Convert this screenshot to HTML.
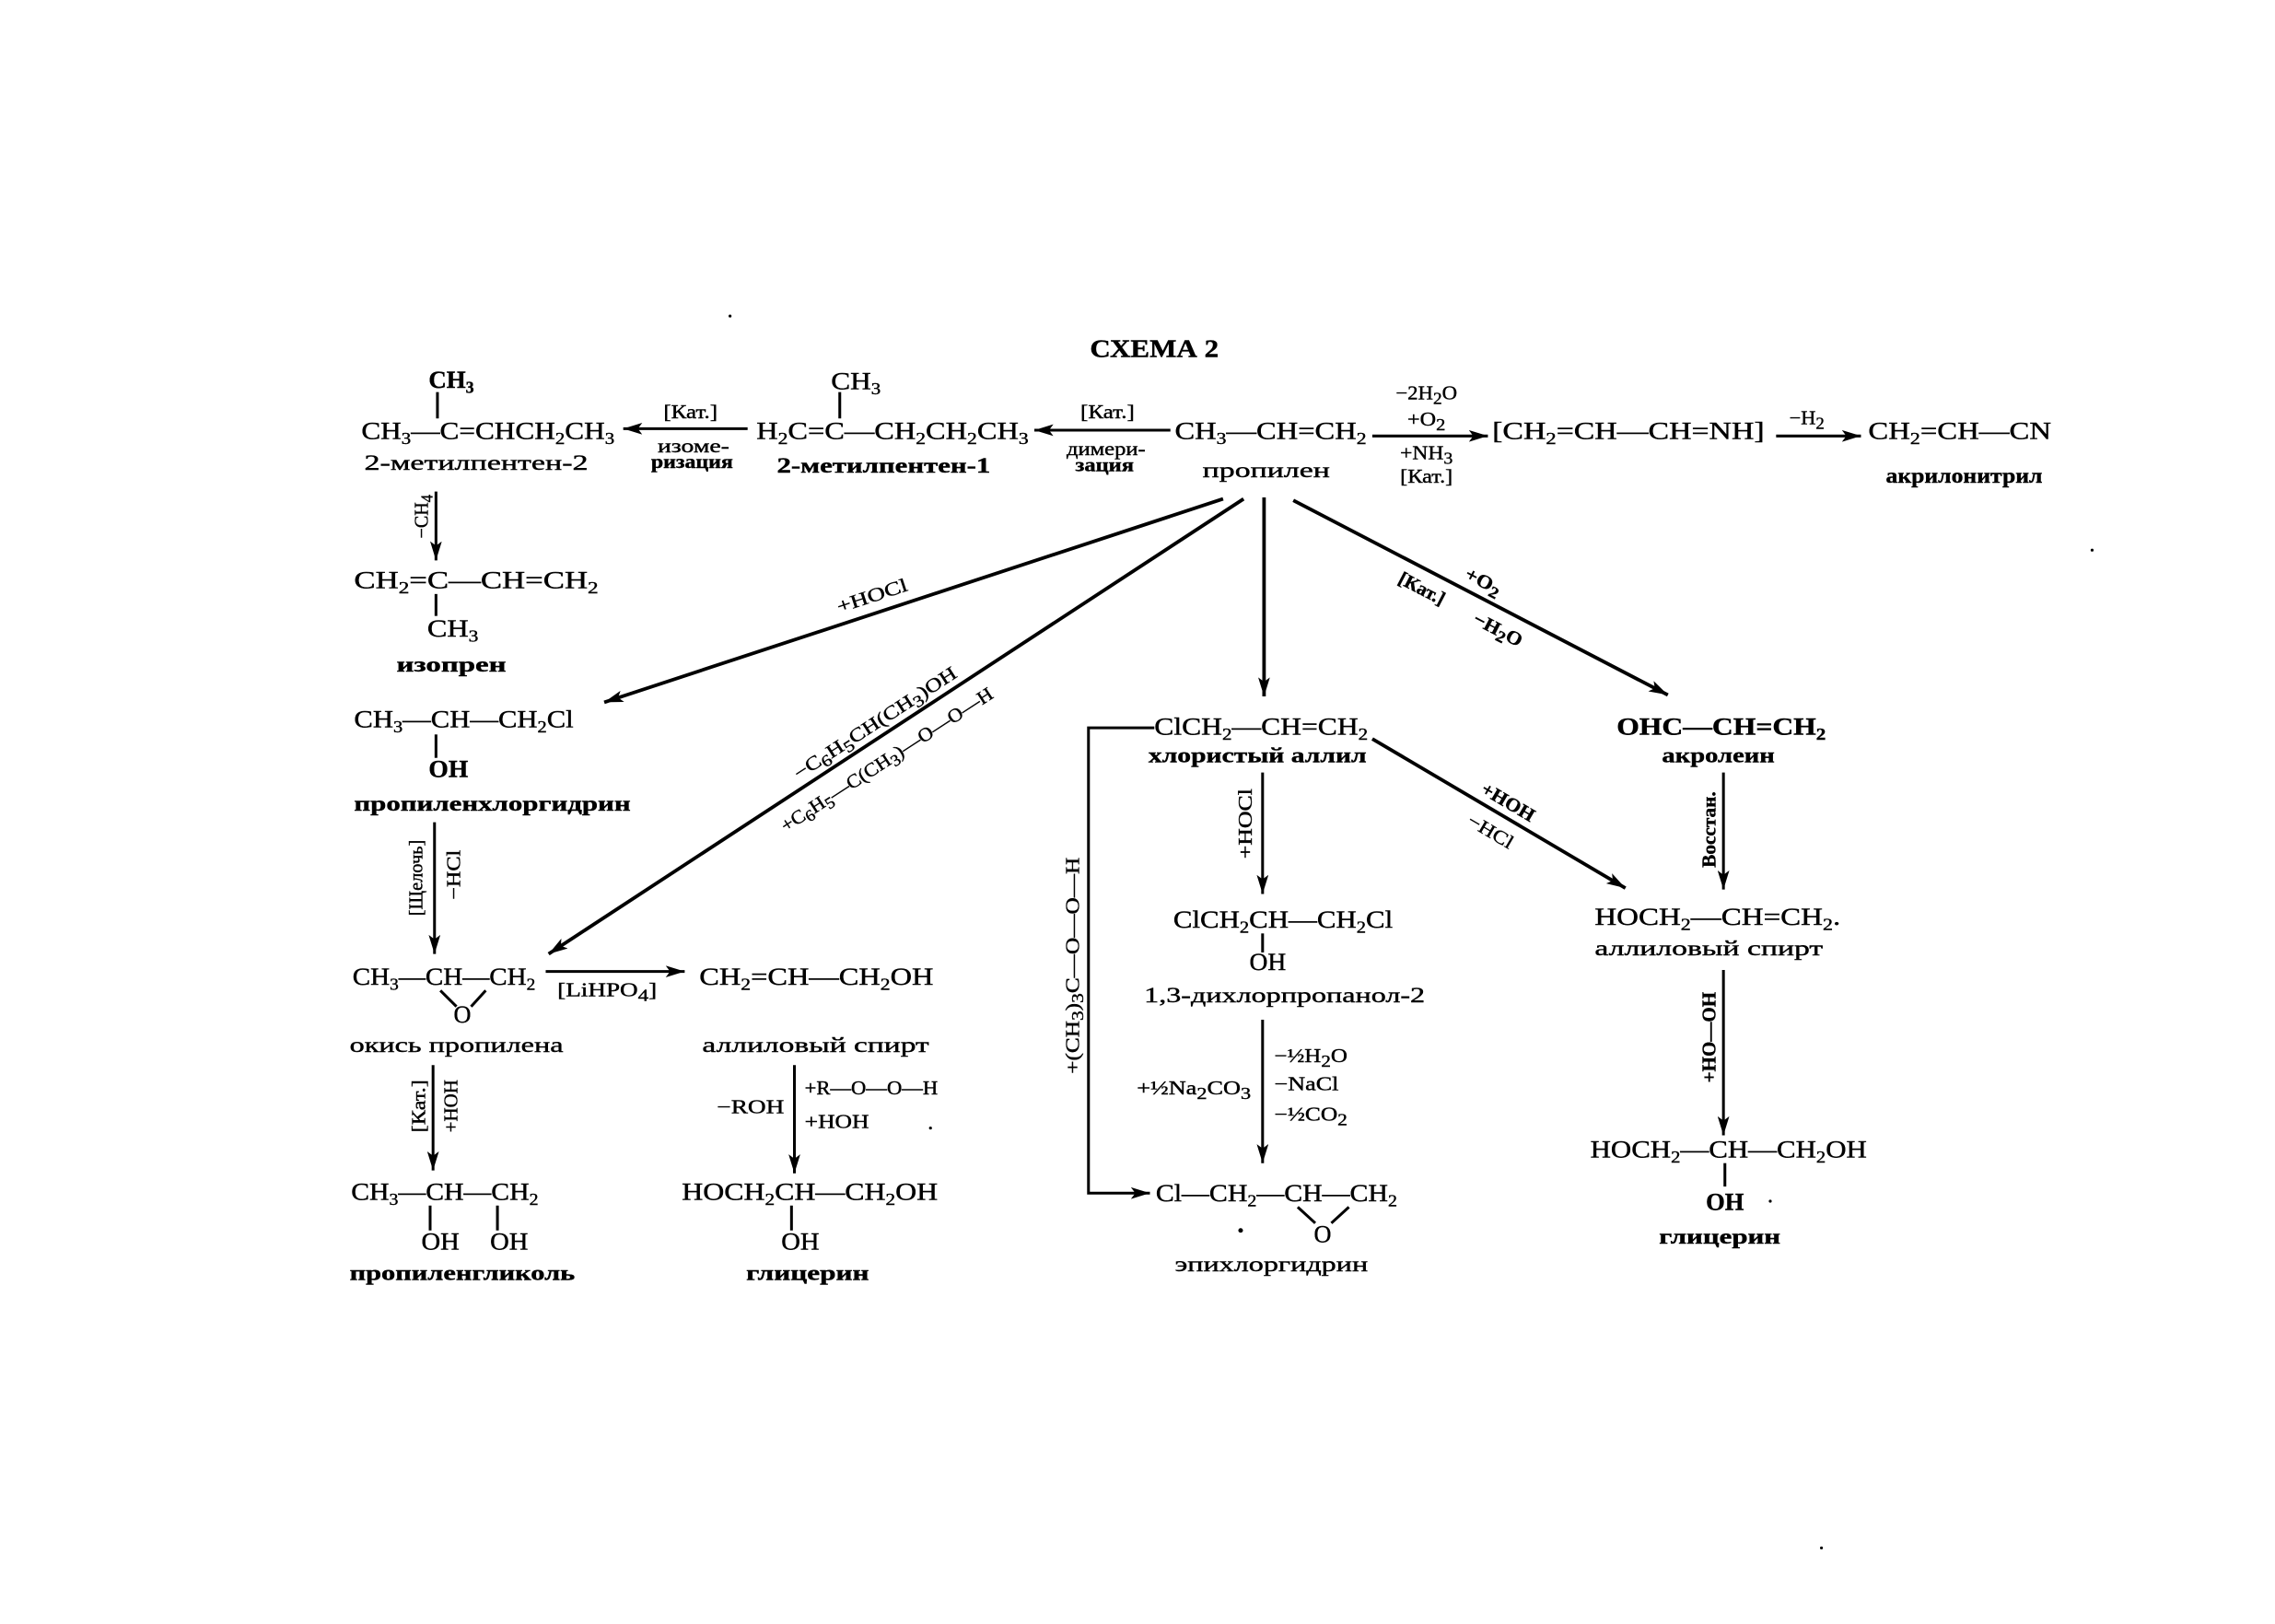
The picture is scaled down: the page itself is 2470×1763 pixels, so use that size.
<!DOCTYPE html>
<html>
<head>
<meta charset="utf-8">
<style>
html,body{margin:0;padding:0;background:#fff;}
svg{display:block;}
text{font-family:"Liberation Serif","DejaVu Serif",serif;fill:#000;stroke:#000;stroke-width:0.25px;}
.f{font-size:16.5px;}
.n{font-size:14.5px;}
.l{font-size:13px;}
.s{font-size:11px;}
.b{font-weight:bold;}
line,path.ln{stroke:#000;stroke-width:1.9;fill:none;}
.t{stroke-width:2.4;}
</style>
</head>
<body>
<svg width="2470" height="1763" viewBox="0 0 1555 1110" preserveAspectRatio="none" xmlns="http://www.w3.org/2000/svg">
<defs>
<marker id="a" viewBox="0 0 13 8" refX="13" refY="4" markerWidth="13" markerHeight="8" orient="auto" markerUnits="userSpaceOnUse">
<path d="M0,0 L13,4 L0,8 L3,4 Z" fill="#000"/>
</marker>
</defs>
<rect width="1555" height="1110" fill="#fff"/>

<!-- Title -->
<text x="789" y="244" class="b" font-size="17" text-anchor="middle" textLength="88" lengthAdjust="spacingAndGlyphs">СХЕМА 2</text>

<!-- ===== Row 1 ===== -->
<text class="f b" x="293" y="265" textLength="31" lengthAdjust="spacingAndGlyphs">CH<tspan class="s" dy="3.5">3</tspan></text>
<line x1="299" y1="268" x2="299" y2="286"/>
<text class="f" x="247" y="300" textLength="173" lengthAdjust="spacingAndGlyphs">CH<tspan class="s" dy="3.5">3</tspan><tspan dy="-3.5">—C=CHCH</tspan><tspan class="s" dy="3.5">2</tspan><tspan dy="-3.5">CH</tspan><tspan class="s" dy="3.5">3</tspan></text>
<text class="n" x="249" y="321" textLength="153" lengthAdjust="spacingAndGlyphs">2-метилпентен-2</text>

<line x1="511" y1="293" x2="426" y2="293" marker-end="url(#a)"/>
<text class="l" x="472" y="286" text-anchor="middle" textLength="37" lengthAdjust="spacingAndGlyphs">[Кат.]</text>
<text class="l" x="474" y="309" text-anchor="middle" textLength="49" lengthAdjust="spacingAndGlyphs">изоме-</text>
<text class="l b" x="473" y="320" text-anchor="middle" textLength="56" lengthAdjust="spacingAndGlyphs">ризация</text>

<text class="f" x="568" y="266" textLength="34" lengthAdjust="spacingAndGlyphs">CH<tspan class="s" dy="3.5">3</tspan></text>
<line x1="574" y1="268" x2="574" y2="286"/>
<text class="f" x="517" y="300" textLength="186" lengthAdjust="spacingAndGlyphs">H<tspan class="s" dy="3.5">2</tspan><tspan dy="-3.5">C=C—CH</tspan><tspan class="s" dy="3.5">2</tspan><tspan dy="-3.5">CH</tspan><tspan class="s" dy="3.5">2</tspan><tspan dy="-3.5">CH</tspan><tspan class="s" dy="3.5">3</tspan></text>
<text class="n b" x="531" y="323" textLength="146" lengthAdjust="spacingAndGlyphs">2-метилпентен-1</text>

<line x1="800" y1="294" x2="707" y2="294" marker-end="url(#a)"/>
<text class="l" x="757" y="286" text-anchor="middle" textLength="37" lengthAdjust="spacingAndGlyphs">[Кат.]</text>
<text class="l" x="756" y="311" text-anchor="middle" textLength="54" lengthAdjust="spacingAndGlyphs">димери-</text>
<text class="l b" x="755" y="322" text-anchor="middle" textLength="40" lengthAdjust="spacingAndGlyphs">зация</text>

<text class="f" x="803" y="300" textLength="131" lengthAdjust="spacingAndGlyphs">CH<tspan class="s" dy="3.5">3</tspan><tspan dy="-3.5">—CH=CH</tspan><tspan class="s" dy="3.5">2</tspan></text>
<text class="n" x="822" y="326" textLength="87" lengthAdjust="spacingAndGlyphs">пропилен</text>

<line x1="938" y1="298" x2="1017" y2="298" marker-end="url(#a)"/>
<text class="l" x="975" y="273" text-anchor="middle" textLength="42" lengthAdjust="spacingAndGlyphs">−2H<tspan class="s" dy="3">2</tspan><tspan dy="-3">O</tspan></text>
<text class="l" x="975" y="291" text-anchor="middle" textLength="26" lengthAdjust="spacingAndGlyphs">+O<tspan class="s" dy="3">2</tspan></text>
<text class="l" x="975" y="314" text-anchor="middle" textLength="36" lengthAdjust="spacingAndGlyphs">+NH<tspan class="s" dy="3">3</tspan></text>
<text class="l" x="975" y="330" text-anchor="middle" textLength="36" lengthAdjust="spacingAndGlyphs">[Кат.]</text>

<text class="f" x="1020" y="300" textLength="186" lengthAdjust="spacingAndGlyphs">[CH<tspan class="s" dy="3.5">2</tspan><tspan dy="-3.5">=CH—CH=NH]</tspan></text>
<line x1="1214" y1="298" x2="1272" y2="298" marker-end="url(#a)"/>
<text class="l" x="1235" y="290" text-anchor="middle" textLength="24" lengthAdjust="spacingAndGlyphs">−H<tspan class="s" dy="3">2</tspan></text>
<text class="f" x="1277" y="300" textLength="125" lengthAdjust="spacingAndGlyphs">CH<tspan class="s" dy="3.5">2</tspan><tspan dy="-3.5">=CH—CN</tspan></text>
<text class="n b" x="1289" y="330" textLength="107" lengthAdjust="spacingAndGlyphs">акрилонитрил</text>

<!-- ===== Left column ===== -->
<line x1="298" y1="336" x2="298" y2="383" marker-end="url(#a)"/>
<g transform="translate(288,353) rotate(-90)"><text class="l" x="0" y="4.5" text-anchor="middle" textLength="30" lengthAdjust="spacingAndGlyphs">−CH<tspan class="s" dy="3">4</tspan></text></g>
<text class="f" x="242" y="402" textLength="167" lengthAdjust="spacingAndGlyphs">CH<tspan class="s" dy="3.5">2</tspan><tspan dy="-3.5">=C—CH=CH</tspan><tspan class="s" dy="3.5">2</tspan></text>
<line x1="298" y1="406" x2="298" y2="421"/>
<text class="f" x="292" y="435" textLength="35" lengthAdjust="spacingAndGlyphs">CH<tspan class="s" dy="3.5">3</tspan></text>
<text class="n b" x="271" y="459" textLength="75" lengthAdjust="spacingAndGlyphs">изопрен</text>

<!-- +HOCl diagonal -->
<line class="t" x1="836" y1="341" x2="413" y2="480" marker-end="url(#a)"/>
<g transform="translate(596,407) rotate(-18.2)"><text class="l" x="0" y="4.5" text-anchor="middle" textLength="50" lengthAdjust="spacingAndGlyphs">+HOCl</text></g>

<text class="f" x="242" y="497" textLength="150" lengthAdjust="spacingAndGlyphs">CH<tspan class="s" dy="3.5">3</tspan><tspan dy="-3.5">—CH—CH</tspan><tspan class="s" dy="3.5">2</tspan><tspan dy="-3.5">Cl</tspan></text>
<line x1="298" y1="502" x2="298" y2="518"/>
<text class="f b" x="293" y="531" textLength="27" lengthAdjust="spacingAndGlyphs">OH</text>
<text class="n b" x="242" y="554" textLength="189" lengthAdjust="spacingAndGlyphs">пропиленхлоргидрин</text>

<line x1="297" y1="562" x2="297" y2="652" marker-end="url(#a)"/>
<g transform="translate(284,600) rotate(-90)"><text class="l" x="0" y="4.5" text-anchor="middle" textLength="52" lengthAdjust="spacingAndGlyphs">[Щелочь]</text></g>
<g transform="translate(310,598) rotate(-90)"><text class="l" x="0" y="4.5" text-anchor="middle" textLength="34" lengthAdjust="spacingAndGlyphs">−HCl</text></g>

<text class="f" x="241" y="673" textLength="125" lengthAdjust="spacingAndGlyphs">CH<tspan class="s" dy="3.5">3</tspan><tspan dy="-3.5">—CH—CH</tspan><tspan class="s" dy="3.5">2</tspan></text>
<line x1="301" y1="677" x2="312" y2="688"/>
<line x1="332" y1="677" x2="322" y2="688"/>
<text class="f" x="316" y="699" text-anchor="middle">O</text>
<text class="n" x="239" y="719" textLength="146" lengthAdjust="spacingAndGlyphs">окись пропилена</text>

<line x1="296" y1="728" x2="296" y2="800" marker-end="url(#a)"/>
<g transform="translate(286,756) rotate(-90)"><text class="l" x="0" y="4.5" text-anchor="middle" textLength="36" lengthAdjust="spacingAndGlyphs">[Кат.]</text></g>
<g transform="translate(308,756) rotate(-90)"><text class="l" x="0" y="4.5" text-anchor="middle" textLength="36" lengthAdjust="spacingAndGlyphs">+HOH</text></g>

<text class="f" x="240" y="820" textLength="128" lengthAdjust="spacingAndGlyphs">CH<tspan class="s" dy="3.5">3</tspan><tspan dy="-3.5">—CH—CH</tspan><tspan class="s" dy="3.5">2</tspan></text>
<line x1="294" y1="824" x2="294" y2="841"/>
<line x1="340" y1="824" x2="340" y2="841"/>
<text class="f" x="288" y="854" textLength="26" lengthAdjust="spacingAndGlyphs">OH</text>
<text class="f" x="335" y="854" textLength="26" lengthAdjust="spacingAndGlyphs">OH</text>
<text class="n b" x="239" y="875" textLength="154" lengthAdjust="spacingAndGlyphs">пропиленгликоль</text>

<!-- cumyl diagonal -->
<line class="t" x1="850" y1="341" x2="375" y2="652" marker-end="url(#a)"/>
<g transform="translate(598,494) rotate(-33)"><text class="l" x="0" y="4.5" text-anchor="middle" textLength="130" lengthAdjust="spacingAndGlyphs">−C<tspan class="s" dy="3">6</tspan><tspan dy="-3">H</tspan><tspan class="s" dy="3">5</tspan><tspan dy="-3">CH(CH</tspan><tspan class="s" dy="3">3</tspan><tspan dy="-3">)OH</tspan></text></g>
<g transform="translate(606,519) rotate(-33)"><text class="l" x="0" y="4.5" text-anchor="middle" textLength="170" lengthAdjust="spacingAndGlyphs">+C<tspan class="s" dy="3">6</tspan><tspan dy="-3">H</tspan><tspan class="s" dy="3">5</tspan><tspan dy="-3">—C(CH</tspan><tspan class="s" dy="3">3</tspan><tspan dy="-3">)—O—O—H</tspan></text></g>

<line x1="373" y1="664" x2="468" y2="664" marker-end="url(#a)"/>
<text class="l" x="381" y="681" textLength="68" lengthAdjust="spacingAndGlyphs">[LiHPO<tspan class="s" dy="3">4</tspan><tspan dy="-3">]</tspan></text>
<text class="f" x="478" y="673" textLength="160" lengthAdjust="spacingAndGlyphs">CH<tspan class="s" dy="3.5">2</tspan><tspan dy="-3.5">=CH—CH</tspan><tspan class="s" dy="3.5">2</tspan><tspan dy="-3.5">OH</tspan></text>
<text class="n" x="480" y="719" textLength="155" lengthAdjust="spacingAndGlyphs">аллиловый спирт</text>

<line x1="543" y1="728" x2="543" y2="802" marker-end="url(#a)"/>
<text class="l" x="550" y="748" textLength="91" lengthAdjust="spacingAndGlyphs">+R—O—O—H</text>
<text class="l" x="550" y="771" textLength="44" lengthAdjust="spacingAndGlyphs">+HOH</text>
<text class="l" x="490" y="761" textLength="46" lengthAdjust="spacingAndGlyphs">−ROH</text>

<text class="f" x="466" y="820" textLength="175" lengthAdjust="spacingAndGlyphs">HOCH<tspan class="s" dy="3.5">2</tspan><tspan dy="-3.5">CH—CH</tspan><tspan class="s" dy="3.5">2</tspan><tspan dy="-3.5">OH</tspan></text>
<line x1="541" y1="824" x2="541" y2="841"/>
<text class="f" x="534" y="854" textLength="26" lengthAdjust="spacingAndGlyphs">OH</text>
<text class="n b" x="510" y="875" textLength="84" lengthAdjust="spacingAndGlyphs">глицерин</text>

<!-- ===== Center column ===== -->
<line class="t" x1="864" y1="340" x2="864" y2="476" marker-end="url(#a)"/>
<text class="f" x="789" y="502" textLength="146" lengthAdjust="spacingAndGlyphs">ClCH<tspan class="s" dy="3.5">2</tspan><tspan dy="-3.5">—CH=CH</tspan><tspan class="s" dy="3.5">2</tspan></text>
<text class="n b" x="785" y="521" textLength="149" lengthAdjust="spacingAndGlyphs">хлористый аллил</text>

<path class="ln" d="M789,497.5 H744 V815.5 H786" marker-end="url(#a)"/>
<g transform="translate(733,660) rotate(-90)"><text class="l" x="0" y="4.5" text-anchor="middle" textLength="148" lengthAdjust="spacingAndGlyphs">+(CH<tspan class="s" dy="3">3</tspan><tspan dy="-3">)</tspan><tspan class="s" dy="3">3</tspan><tspan dy="-3">C—O—O—H</tspan></text></g>

<line x1="863" y1="528" x2="863" y2="611" marker-end="url(#a)"/>
<g transform="translate(851,563) rotate(-90)"><text class="l" x="0" y="4.5" text-anchor="middle" textLength="48" lengthAdjust="spacingAndGlyphs">+HOCl</text></g>

<text class="f" x="802" y="634" textLength="150" lengthAdjust="spacingAndGlyphs">ClCH<tspan class="s" dy="3.5">2</tspan><tspan dy="-3.5">CH—CH</tspan><tspan class="s" dy="3.5">2</tspan><tspan dy="-3.5">Cl</tspan></text>
<line x1="863" y1="638" x2="863" y2="651"/>
<text class="f" x="854" y="663" textLength="25" lengthAdjust="spacingAndGlyphs">OH</text>
<text class="n" x="782" y="685" textLength="192" lengthAdjust="spacingAndGlyphs">1,3-дихлорпропанол-2</text>

<line x1="863" y1="697" x2="863" y2="795" marker-end="url(#a)"/>
<text class="l" x="871" y="726" textLength="50" lengthAdjust="spacingAndGlyphs">−½H<tspan class="s" dy="3">2</tspan><tspan dy="-3">O</tspan></text>
<text class="l" x="871" y="745" textLength="44" lengthAdjust="spacingAndGlyphs">−NaCl</text>
<text class="l" x="871" y="766" textLength="50" lengthAdjust="spacingAndGlyphs">−½CO<tspan class="s" dy="3">2</tspan></text>
<text class="l" x="777" y="748" textLength="78" lengthAdjust="spacingAndGlyphs">+½Na<tspan class="s" dy="3">2</tspan><tspan dy="-3">CO</tspan><tspan class="s" dy="3">3</tspan></text>

<text class="f" x="790" y="821" textLength="165" lengthAdjust="spacingAndGlyphs">Cl—CH<tspan class="s" dy="3.5">2</tspan><tspan dy="-3.5">—CH—CH</tspan><tspan class="s" dy="3.5">2</tspan></text>
<line x1="887" y1="825" x2="899" y2="836"/>
<line x1="922" y1="825" x2="910" y2="836"/>
<text class="f" x="904" y="849" text-anchor="middle">O</text>
<circle cx="848" cy="841" r="1.6" fill="#000"/>
<text class="n" x="803" y="869" textLength="132" lengthAdjust="spacingAndGlyphs">эпихлоргидрин</text>

<!-- +HOH diagonal -->
<line class="t" x1="938" y1="505" x2="1111" y2="607" marker-end="url(#a)"/>
<g transform="translate(1031,548) rotate(30.5)"><text class="l b" x="0" y="4.5" text-anchor="middle" textLength="40" lengthAdjust="spacingAndGlyphs">+HOH</text></g>
<g transform="translate(1019,568) rotate(30.5)"><text class="l" x="0" y="4.5" text-anchor="middle" textLength="34" lengthAdjust="spacingAndGlyphs">−HCl</text></g>

<!-- ===== Right diagonal to acrolein ===== -->
<line class="t" x1="884" y1="342" x2="1140" y2="475" marker-end="url(#a)"/>
<g transform="translate(1014,397) rotate(27.5)"><text class="l b" x="0" y="4.5" text-anchor="middle" textLength="26" lengthAdjust="spacingAndGlyphs">+O<tspan class="s" dy="3">2</tspan></text></g>
<g transform="translate(1024,430) rotate(27.5)"><text class="l b" x="0" y="4.5" text-anchor="middle" textLength="36" lengthAdjust="spacingAndGlyphs">−H<tspan class="s" dy="3">2</tspan><tspan dy="-3">O</tspan></text></g>
<g transform="translate(972,402) rotate(27.5)"><text class="l b" x="0" y="4.5" text-anchor="middle" textLength="34" lengthAdjust="spacingAndGlyphs">[Кат.]</text></g>

<!-- ===== Right column ===== -->
<text class="f b" x="1105" y="502" textLength="143" lengthAdjust="spacingAndGlyphs">OHC—CH=CH<tspan class="s" dy="3.5">2</tspan></text>
<text class="n b" x="1136" y="521" textLength="77" lengthAdjust="spacingAndGlyphs">акролеин</text>
<line x1="1178" y1="528" x2="1178" y2="608" marker-end="url(#a)"/>
<g transform="translate(1168,567) rotate(-90)"><text class="l b" x="0" y="4.5" text-anchor="middle" textLength="52" lengthAdjust="spacingAndGlyphs">Восстан.</text></g>
<text class="f" x="1090" y="632" textLength="168" lengthAdjust="spacingAndGlyphs">HOCH<tspan class="s" dy="3.5">2</tspan><tspan dy="-3.5">—CH=CH</tspan><tspan class="s" dy="3.5">2</tspan><tspan dy="-3.5">.</tspan></text>
<text class="n" x="1090" y="653" textLength="156" lengthAdjust="spacingAndGlyphs">аллиловый спирт</text>
<line x1="1178" y1="663" x2="1178" y2="776" marker-end="url(#a)"/>
<g transform="translate(1168,709) rotate(-90)"><text class="l b" x="0" y="4.5" text-anchor="middle" textLength="62" lengthAdjust="spacingAndGlyphs">+HO—OH</text></g>
<text class="f" x="1087" y="791" textLength="189" lengthAdjust="spacingAndGlyphs">HOCH<tspan class="s" dy="3.5">2</tspan><tspan dy="-3.5">—CH—CH</tspan><tspan class="s" dy="3.5">2</tspan><tspan dy="-3.5">OH</tspan></text>
<line x1="1179" y1="795" x2="1179" y2="811"/>
<text class="f b" x="1166" y="827" textLength="26" lengthAdjust="spacingAndGlyphs">OH</text>
<text class="n b" x="1134" y="850" textLength="83" lengthAdjust="spacingAndGlyphs">глицерин</text>

<!-- specks -->
<circle cx="499" cy="216" r="1" fill="#000"/>
<circle cx="1430" cy="376" r="1" fill="#000"/>
<circle cx="1245" cy="1058" r="1" fill="#000"/>
<circle cx="1210" cy="821" r="1" fill="#000"/>
<circle cx="636" cy="771" r="1" fill="#000"/>
</svg>
</body>
</html>
